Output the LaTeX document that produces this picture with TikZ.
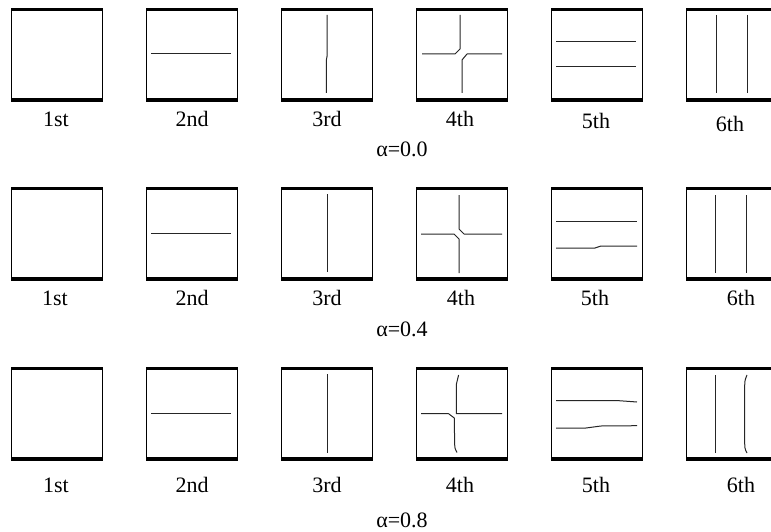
\documentclass[tikz,border=0pt]{standalone}
\usepackage{fontspec}
\setmainfont{Liberation Serif}

\begin{document}
\begin{tikzpicture}[
  x=1pt,y=-1pt,
  cell/.style={draw,line width=1.3pt,minimum width=91pt,minimum height=89pt,
    anchor=north west,inner sep=0pt},
  bar/.style={line width=3.6pt},
  crack/.style={line width=1pt,black!85,line join=round},
  tag/.style={font=\fontsize{22}{26}\selectfont,inner sep=0pt}
]
  \useasboundingbox (0,0) rectangle (771,532);
  \clip (0,0) rectangle (771,532);

  % the eighteen cells, three rows of six
  \foreach \r/\y in {a/9.5,b/188.5,c/368.5}
    \foreach \k/\x in {1/11,2/146,3/281,4/416,5/551,6/686}{
      \node[cell] (\r\k) at (\x,\y) {};
      \draw[bar] (\r\k.north west) -- (\r\k.north east);
      \draw[bar] (\r\k.south west) -- (\r\k.south east);
    }

  % alpha = 0.0
  \begin{scope}[shift={(a2.north west)}]
    \draw[crack] (5,44.5) -- (85,44.5);
  \end{scope}
  \begin{scope}[shift={(a3.north west)}]
    \draw[crack] (46,5.5) -- (46,47) -- (45.3,51) -- (45.3,83.5);
  \end{scope}
  \begin{scope}[shift={(a4.north west)}]
    \draw[crack] (6,44.5) -- (39,44.5) -- (44,39.5) -- (44,5.5);
    \draw[crack] (86,44.5) -- (51,44.5) -- (46,50.5) -- (46,83.5);
  \end{scope}
  \begin{scope}[shift={(a5.north west)}]
    \draw[crack] (5,31.8) -- (85,31.8);
    \draw[crack] (5,57.2) -- (85,57.2);
  \end{scope}
  \begin{scope}[shift={(a6.north west)}]
    \draw[crack] (30,5.5) -- (30,83.5);
    \draw[crack] (61,5.5) -- (61,83.5);
  \end{scope}

  % alpha = 0.4
  \begin{scope}[shift={(b2.north west)}]
    \draw[crack] (5,44.5) -- (85,44.5);
  \end{scope}
  \begin{scope}[shift={(b3.north west)}]
    \draw[crack] (46,5.5) -- (46,83.5);
  \end{scope}
  \begin{scope}[shift={(b4.north west)}]
    \draw[crack] (43,6.5) -- (43,40.5) -- (48,45.5) -- (86,45.5);
    \draw[crack] (5,45.5) -- (38,45.5) -- (43,50.5) -- (43,84.5);
  \end{scope}
  \begin{scope}[shift={(b5.north west)}]
    \draw[crack] (5,32.5) -- (86,32.5);
    \draw[crack] (5,59.5) -- (44,59.5) -- (50,57.5) -- (86,57.5);
  \end{scope}
  \begin{scope}[shift={(b6.north west)}]
    \draw[crack] (29,6.5) -- (29,84.5);
    \draw[crack] (60,6.5) -- (60,84.5);
  \end{scope}

  % alpha = 0.8
  \begin{scope}[shift={(c2.north west)}]
    \draw[crack] (5,44.5) -- (85,44.5);
  \end{scope}
  \begin{scope}[shift={(c3.north west)}]
    \draw[crack] (46,5.5) -- (46,84);
  \end{scope}
  \begin{scope}[shift={(c4.north west)}]
    \draw[crack] (42.6,6.5) .. controls (40.5,11) .. (40.3,16) -- (40.3,45.2) -- (86,45.2);
    \draw[crack] (5,45.2) -- (32.6,45.2) -- (38.3,49.5) -- (38.6,73)
      .. controls (38.8,80) .. (41,84);
  \end{scope}
  \begin{scope}[shift={(c5.north west)}]
    \draw[crack] (5,32.2) -- (68,32.2) -- (86,33.5);
    \draw[crack] (5,59.5) -- (35,59.5) -- (50,57.5) -- (86,57.2);
  \end{scope}
  \begin{scope}[shift={(c6.north west)}]
    \draw[crack] (29,6.5) -- (29,84.5);
    \draw[crack] (61,6.5) .. controls (58.7,12) .. (58.7,22) -- (58.7,70)
      .. controls (58.7,80) .. (61,84.5);
  \end{scope}

  % labels
  \foreach \n/\t/\lx/\ly in {a1/1st/56/119,a2/2nd/192/119,a3/3rd/327/119,
      a4/4th/460/119,a5/5th/596/121,a6/6th/730/124,
      b1/1st/55/298,b2/2nd/192/298,b3/3rd/327/298,
      b4/4th/461/298,b5/5th/595/298,b6/6th/741/298,
      c1/1st/56/485,c2/2nd/192/485,c3/3rd/327/485,
      c4/4th/460/485,c5/5th/596/485,c6/6th/741/485}
    \node[tag] (l\n) at (\lx,\ly) {\t};
  \node[tag] (alphaA) at (402,149) {α=0.0};
  \node[tag] (alphaB) at (402,329) {α=0.4};
  \node[tag] (alphaC) at (402,520) {α=0.8};
\end{tikzpicture}
\end{document}
